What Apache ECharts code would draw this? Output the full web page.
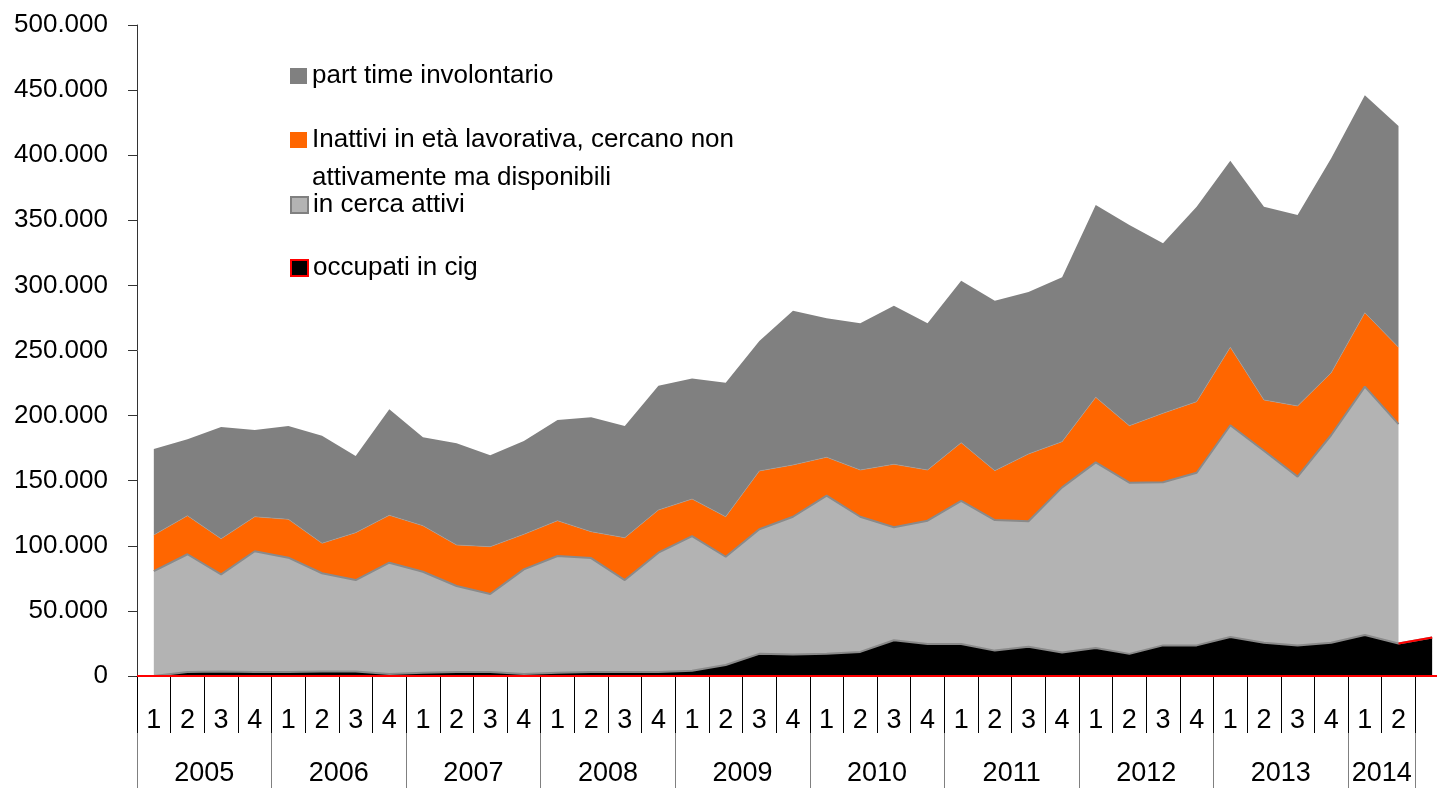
<!DOCTYPE html>
<html>
<head>
<meta charset="utf-8">
<script src="https://cdn.jsdelivr.net/npm/echarts@6/dist/echarts.min.js"></script>
<style>
  html, body { margin: 0; padding: 0; background: #fff; }
  #chart { width: 1437px; height: 788px; }
</style>
</head>
<body>
<div id="chart"></div>
<script>
const FONT = "'Liberation Sans Narrow', 'Liberation Sans', Arial, sans-serif";

// categorie: trimestri (l'ultima senza etichetta)
const quarterLabels = [
  '1', '2', '3', '4', '1', '2', '3', '4', '1', '2', '3', '4', '1', '2', '3', '4',
  '1', '2', '3', '4', '1', '2', '3', '4', '1', '2', '3', '4', '1', '2', '3', '4',
  '1', '2', '3', '4', '1', '2', '',
];
const years = ['2005', '2006', '2007', '2008', '2009', '2010', '2011', '2012', '2013', '2014'];
const quartersPerYear = [4, 4, 4, 4, 4, 4, 4, 4, 4, 2];

const yTicks = [0, 50000, 100000, 150000, 200000, 250000, 300000, 350000, 400000, 450000, 500000];

const occupatiCig = [
  0, 3000, 3500, 3000, 3000, 3500, 3500, 1500, 2500, 3000, 3000, 1500, 2500, 3000, 3000, 3000,
  4000, 8500, 17000, 16500, 17000, 18500, 27500, 24500, 24500, 19500, 22500, 18000,
  21500, 17000, 23500, 23500, 30000, 25500, 23500, 25500, 31500, 25000, 29500,
];
const inCercaAttivi = [
  80600, 90500, 74600, 92800, 87900, 75400, 70200, 85500, 77600, 66100, 60000, 80400,
  89700, 87600, 70700, 91700, 103500, 83100, 95700, 105800, 121500, 103800, 86700, 94800,
  110000, 100300, 96300, 126900, 142600, 131500, 125300, 132600, 162600, 147500, 129600, 159600,
  190700, 168500,
];
const inattivi = [
  27700, 29600, 27300, 26500, 29400, 23000, 36400, 36400, 35300, 31500, 36300, 26900,
  27100, 20200, 32500, 32800, 28400, 30700, 44800, 39800, 29500, 35900, 48400, 38900,
  44700, 37900, 51700, 35100, 49900, 43700, 53000, 54600, 59900, 39000, 54300, 47800,
  56800, 59000,
];
const partTime = [
  66000, 58700, 85800, 66600, 71700, 82700, 58900, 81400, 67900, 78100, 70200, 71700,
  77300, 87900, 85800, 95500, 92500, 103000, 99800, 118500, 106700, 112700, 121800, 112700,
  124300, 130600, 124400, 126200, 147800, 154200, 130500, 149800, 143300, 148500, 146700, 164700,
  167000, 169900,
];

// bordi e centri degli anni sull'asse dei trimestri
const yearEdges = [0];
const yearMids = [];
quartersPerYear.forEach(n => {
  const start = yearEdges[yearEdges.length - 1];
  yearMids.push(start + n / 2);
  yearEdges.push(start + n);
});
// tratto finale della cig non coperto dall'area "in cerca": bordo rosso
const lastFull = inCercaAttivi.length - 1;
const cigEdge = occupatiCig.map((v, i) => (i >= lastFull ? v : null));

const fmt = v => String(v).replace(/\B(?=(\d{3})+(?!\d))/g, '.');

const chart = echarts.init(document.getElementById('chart'), null, { renderer: 'canvas' });

const legendBase = {
  orient: 'vertical',
  left: 290,
  padding: 0,
  icon: 'rect',
  itemWidth: 17,
  itemHeight: 16,
  selectedMode: false,
  textStyle: { fontFamily: FONT, fontSize: 26, lineHeight: 30, color: '#000' },
};

chart.setOption({
  backgroundColor: '#fff',
  animation: false,
  textStyle: { fontFamily: FONT },
  grid: {
    left: 137, top: 25, width: quarterLabels.length * 33.64, height: 651,
    outerBoundsMode: 'none', containLabel: false,
  },
  legend: [
    Object.assign({}, legendBase, {
      top: 61,
      data: [{ name: 'part time involontario', itemStyle: { color: '#808080', borderWidth: 0 } }],
    }),
    Object.assign({}, legendBase, {
      // icona allineata alla prima riga del testo su due righe
      top: 121,
      icon: 'path://M0,0h17v16h-17z M0,54h0.01v0.01h-0.01z',
      itemHeight: 54,
      data: [{ name: 'Inattivi in età lavorativa, cercano non\nattivamente ma disponibili', itemStyle: { color: '#ff6600', borderWidth: 0 } }],
      textStyle: Object.assign({}, legendBase.textStyle, { lineHeight: 38 }),
    }),
    Object.assign({}, legendBase, {
      top: 190,
      data: [{ name: 'in cerca attivi', itemStyle: { color: '#b3b3b3', borderColor: '#808080', borderWidth: 2 } }],
    }),
    Object.assign({}, legendBase, {
      top: 253,
      data: [{ name: 'occupati in cig', itemStyle: { color: '#000', borderColor: '#ff0000', borderWidth: 2 } }],
    }),
  ],
  xAxis: [
    {
      type: 'category',
      data: quarterLabels,
      boundaryGap: true,
      z: 3,
      axisLine: { show: true, lineStyle: { color: '#000', width: 1 } },
      axisTick: { show: true, interval: 0, length: 57, lineStyle: { color: '#000' } },
      axisLabel: { interval: 0, margin: 31, fontSize: 27, color: '#000', fontFamily: FONT },
      splitLine: { show: false },
    },
    {
      type: 'value',
      min: 0,
      max: quarterLabels.length,
      position: 'bottom',
      z: 1,
      axisLine: { show: false },
      axisTick: { show: true, customValues: yearEdges, length: 112, lineStyle: { color: '#808080' } },
      axisLabel: {
        customValues: yearMids,
        margin: 84,
        fontSize: 27,
        color: '#000',
        fontFamily: FONT,
        formatter: v => years[yearMids.indexOf(v)] || '',
      },
      splitLine: { show: false },
    },
  ],
  yAxis: {
    type: 'value',
    min: yTicks[0],
    max: yTicks[yTicks.length - 1],
    interval: yTicks[1] - yTicks[0],
    axisLine: { show: true, lineStyle: { color: '#333' } },
    axisTick: { show: true, length: 9, lineStyle: { color: '#333' } },
    axisLabel: { margin: 29, fontSize: 26, color: '#000', fontFamily: FONT, formatter: fmt },
    splitLine: { show: false },
  },
  series: [
    {
      name: 'occupati in cig',
      type: 'line',
      stack: 'tot',
      data: occupatiCig,
      showSymbol: false,
      itemStyle: { color: '#000' },
      lineStyle: { color: '#8a8a8a', width: 2 },
      areaStyle: { color: '#000', opacity: 1 },
      markLine: {
        silent: true,
        symbol: 'none',
        label: { show: false },
        lineStyle: { color: '#ff0000', width: 2, type: 'solid' },
        data: [{ yAxis: 0 }],
      },
    },
    {
      name: 'in cerca attivi',
      type: 'line',
      stack: 'tot',
      data: inCercaAttivi,
      showSymbol: false,
      itemStyle: { color: '#b3b3b3' },
      lineStyle: { color: '#8a8a8a', width: 2 },
      areaStyle: { color: '#b3b3b3', opacity: 1 },
    },
    {
      name: 'Inattivi in età lavorativa, cercano non\nattivamente ma disponibili',
      type: 'line',
      stack: 'tot',
      data: inattivi,
      showSymbol: false,
      itemStyle: { color: '#ff6600' },
      lineStyle: { color: '#a0a0a0', width: 0.6 },
      areaStyle: { color: '#ff6600', opacity: 1 },
    },
    {
      name: 'part time involontario',
      type: 'line',
      stack: 'tot',
      data: partTime,
      showSymbol: false,
      itemStyle: { color: '#808080' },
      lineStyle: { width: 0 },
      areaStyle: { color: '#808080', opacity: 1 },
    },
    {
      name: 'cig-bordo',
      type: 'line',
      data: cigEdge,
      showSymbol: false,
      silent: true,
      lineStyle: { color: '#ff0000', width: 2 },
    },
  ],
});
</script>
</body>
</html>
